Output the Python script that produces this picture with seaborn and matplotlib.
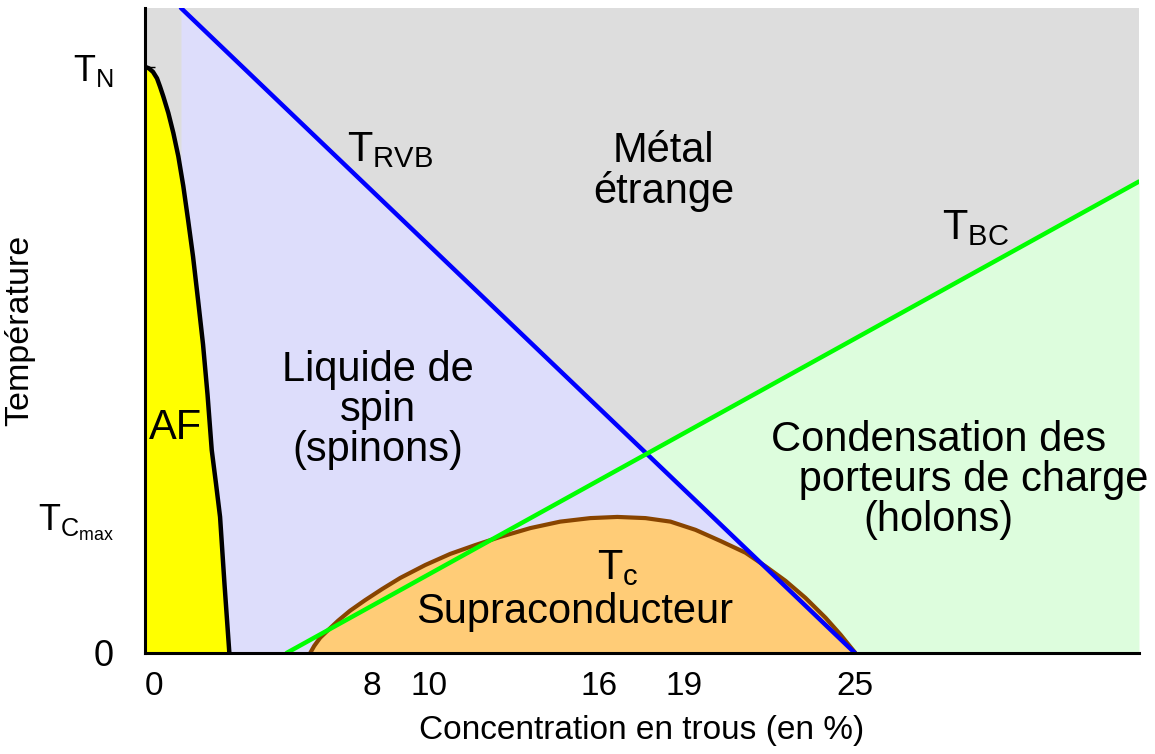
import numpy as np
import matplotlib
matplotlib.use("Agg")
import matplotlib.pyplot as plt
import seaborn as sns

# data (x = hole concentration in %, y = temperature with T_N = 1)
t_n = 1.0
t_cmax = 0.232
y_top = 1.10

# AF boundary (Neel line)
af_x = [0.0, 0.155, 0.296, 0.437, 0.542, 0.659, 0.835, 1.011, 1.187, 1.363, 1.529,
        1.705, 1.881, 2.057, 2.216, 2.363, 2.515, 2.656, 2.814, 2.983]
af_y = [1.0, 0.997, 0.991, 0.980, 0.966, 0.949, 0.921, 0.887, 0.847, 0.796, 0.739,
        0.676, 0.602, 0.526, 0.440, 0.346, 0.288, 0.232, 0.116, 0.0]

# T_RVB line and T_BC line (end points)
rvb_x = [1.28, 25.0]
rvb_y = [1.10, 0.0]
bc_x = [5.0, 35.0]
bc_y = [0.0, 0.804]

# superconducting dome T_c
tc_x = [5.83, 5.97, 6.18, 6.46, 6.81, 7.23, 7.76, 8.36, 9.0, 9.88, 10.76, 11.64,
        12.52, 13.58, 14.63, 15.69, 16.64, 17.63, 18.51, 19.39, 20.27, 21.15,
        21.85, 22.56, 23.26, 23.97, 24.50, 24.85, 25.02]
tc_y = [0.0, 0.012, 0.026, 0.039, 0.055, 0.072, 0.090, 0.109, 0.128, 0.150, 0.169,
        0.184, 0.198, 0.213, 0.224, 0.230, 0.232, 0.230, 0.224, 0.210, 0.191, 0.171,
        0.148, 0.123, 0.094, 0.060, 0.031, 0.010, 0.0]

xticks = [0, 8, 10, 16, 19, 25]
xtick_labels = ['0', '8', '10', '16', '19', '25']
yticks = [0, t_cmax, t_n]
ytick_labels = ['0', r'$\mathrm{T_{C_{max}}}$', r'$\mathrm{T_N}$']

sns.set_style("white")
plt.rcParams['font.family'] = ['Liberation Sans', 'DejaVu Sans']
plt.rcParams['mathtext.fontset'] = 'custom'
plt.rcParams['mathtext.rm'] = 'Liberation Sans'
plt.rcParams['mathtext.it'] = 'Liberation Sans:italic'
plt.rcParams['text.color'] = 'black'
plt.rcParams['axes.labelcolor'] = 'black'
plt.rcParams['xtick.color'] = 'black'
plt.rcParams['ytick.color'] = 'black'

fig = plt.figure(figsize=(11.55, 7.54), dpi=100)
ax = fig.add_axes([0.1252, 0.134, 0.8609, 0.8554])
ax.set_facecolor('#dddddd')

# spin liquid region (under T_RVB)
ax.fill_between(rvb_x, 0, rvb_y, color='#ddddfb', lw=0, zorder=1)

# charge condensation region (under T_BC, right of T_RVB)
s_rvb = (rvb_y[1] - rvb_y[0]) / (rvb_x[1] - rvb_x[0])
s_bc = (bc_y[1] - bc_y[0]) / (bc_x[1] - bc_x[0])
x_int = (bc_y[0] - s_bc * bc_x[0] - rvb_y[0] + s_rvb * rvb_x[0]) / (s_rvb - s_bc)
gx = np.array([x_int, rvb_x[1], bc_x[1]])
g_low = np.clip(np.interp(gx, rvb_x, rvb_y, right=0), 0, None)
g_up = np.interp(gx, bc_x, bc_y)
ax.fill_between(gx, g_low, g_up, color='#ddfddd', lw=0, zorder=1)

# AF region
ax.fill_betweenx(af_y, 0, af_x, color='#ffff00', lw=0, zorder=2)
sns.lineplot(x=af_x, y=af_y, sort=False, color='black', lw=3.2, ax=ax, zorder=5)

# superconducting dome
ax.fill_between(tc_x, 0, tc_y, color='#ffcc77', lw=0, zorder=2)
sns.lineplot(x=tc_x, y=tc_y, sort=False, color='#884400', lw=3, ax=ax, zorder=3)

# crossover lines
sns.lineplot(x=rvb_x, y=rvb_y, color='#0000ff', lw=3.2, ax=ax, zorder=4)
sns.lineplot(x=bc_x, y=bc_y, color='#00ff00', lw=3.2, ax=ax, zorder=4)

ax.set_xlim(0, 35)
ax.set_ylim(0, y_top)

for s in ['top', 'right']:
    ax.spines[s].set_visible(False)
for s in ['left', 'bottom']:
    ax.spines[s].set_linewidth(2.2)
    ax.spines[s].set_color('black')
    ax.spines[s].set_zorder(6)

ax.set_xticks(xticks)
ax.set_xticklabels(xtick_labels)
ax.set_yticks(yticks)
ax.set_yticklabels(ytick_labels)
ax.xaxis.get_ticklabels()[0].set_horizontalalignment('left')
ax.tick_params(axis='both', direction='in', length=7, width=1, color='black',
               labelsize=24, pad=13, bottom=True, left=True)
ax.tick_params(axis='y', labelsize=26, pad=22)

ax.set_xlabel('Concentration en trous (en %)', fontsize=24, labelpad=9)
ax.set_ylabel('Température', fontsize=24.5, labelpad=2)

# region labels
fs = 30
ls = 1.0
ax.text(8.64, 0.858, r'$\mathrm{T_{RVB}}$', fontsize=fs, ha='center', va='center', zorder=7)
ax.text(18.26, 0.821, 'Métal\nétrange', fontsize=fs, ha='center', va='center',
        linespacing=ls, zorder=7)
ax.text(29.25, 0.725, r'$\mathrm{T_{BC}}$', fontsize=fs, ha='center', va='center', zorder=7)
ax.text(8.22, 0.415, 'Liquide de\nspin\n(spinons)', fontsize=fs, ha='center', va='center',
        linespacing=ls, zorder=7)
ax.text(1.07, 0.384, 'AF', fontsize=fs, ha='center', va='center', zorder=7)
ax.text(27.95, 0.295, 'Condensation des\n      porteurs de charge\n(holons)', fontsize=fs,
        ha='center', va='center', linespacing=ls, zorder=7)
ax.text(16.64, 0.145, r'$\mathrm{T_c}$', fontsize=fs, ha='center', va='center', zorder=7)
ax.text(15.15, 0.07, 'Supraconducteur', fontsize=fs, ha='center', va='center', zorder=7)

fig.savefig('out.png', dpi=100)
